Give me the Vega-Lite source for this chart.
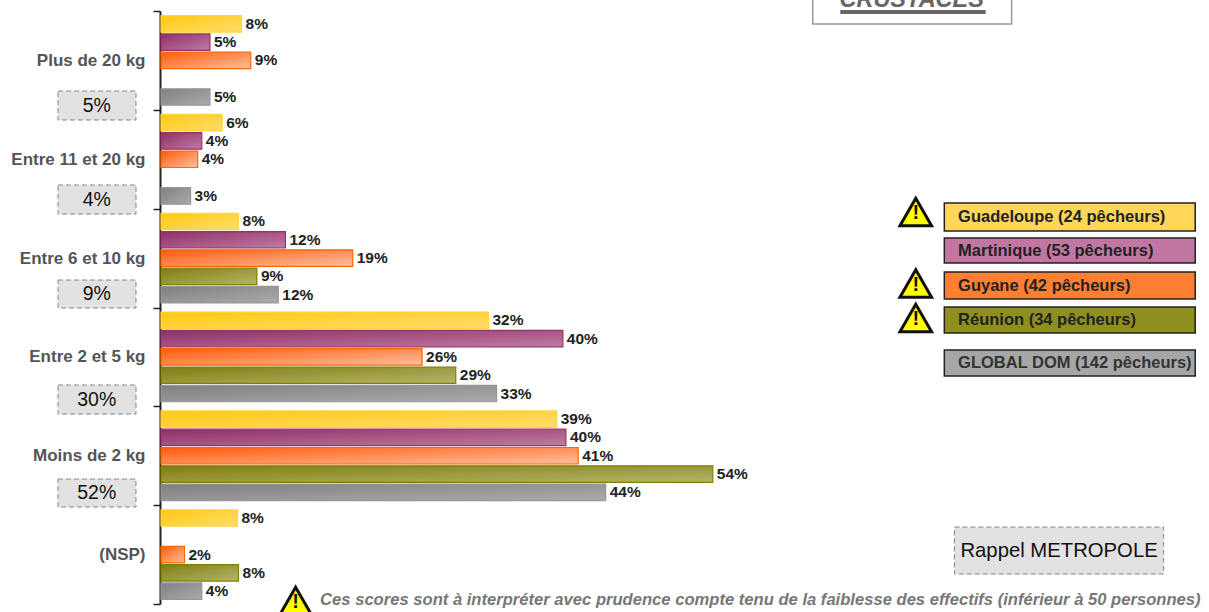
{"$schema":"https://vega.github.io/schema/vega-lite/v6.json","width":1048,"height":593,"autosize":"none","padding":{"left":161,"top":11,"right":0,"bottom":8},"background":"white","config":{"view":{"stroke":null},"text":{"font":"Liberation Sans"}},"resolve":{"scale":{"y":"independent"}},"layer":[
{"data":{"name":"bars","values":[
{"g":"Plus de 20 kg","s":"Guadeloupe","value":7.9,"label":"8%"},{"g":"Plus de 20 kg","s":"Martinique","value":4.8,"label":"5%"},{"g":"Plus de 20 kg","s":"Guyane","value":8.8,"label":"9%"},{"g":"Plus de 20 kg","s":"GLOBAL DOM","value":4.8,"label":"5%"},
{"g":"Entre 11 et 20 kg","s":"Guadeloupe","value":6.0,"label":"6%"},{"g":"Entre 11 et 20 kg","s":"Martinique","value":4.0,"label":"4%"},{"g":"Entre 11 et 20 kg","s":"Guyane","value":3.6,"label":"4%"},{"g":"Entre 11 et 20 kg","s":"GLOBAL DOM","value":2.9,"label":"3%"},
{"g":"Entre 6 et 10 kg","s":"Guadeloupe","value":7.6,"label":"8%"},{"g":"Entre 6 et 10 kg","s":"Martinique","value":12.2,"label":"12%"},{"g":"Entre 6 et 10 kg","s":"Guyane","value":18.8,"label":"19%"},{"g":"Entre 6 et 10 kg","s":"Réunion","value":9.4,"label":"9%"},{"g":"Entre 6 et 10 kg","s":"GLOBAL DOM","value":11.5,"label":"12%"},
{"g":"Entre 2 et 5 kg","s":"Guadeloupe","value":32.1,"label":"32%"},{"g":"Entre 2 et 5 kg","s":"Martinique","value":39.4,"label":"40%"},{"g":"Entre 2 et 5 kg","s":"Guyane","value":25.6,"label":"26%"},{"g":"Entre 2 et 5 kg","s":"Réunion","value":28.9,"label":"29%"},{"g":"Entre 2 et 5 kg","s":"GLOBAL DOM","value":32.9,"label":"33%"},
{"g":"Moins de 2 kg","s":"Guadeloupe","value":38.8,"label":"39%"},{"g":"Moins de 2 kg","s":"Martinique","value":39.7,"label":"40%"},{"g":"Moins de 2 kg","s":"Guyane","value":40.9,"label":"41%"},{"g":"Moins de 2 kg","s":"Réunion","value":54.1,"label":"54%"},{"g":"Moins de 2 kg","s":"GLOBAL DOM","value":43.6,"label":"44%"},
{"g":"(NSP)","s":"Guadeloupe","value":7.5,"label":"8%"},{"g":"(NSP)","s":"Guyane","value":2.3,"label":"2%"},{"g":"(NSP)","s":"Réunion","value":7.6,"label":"8%"},{"g":"(NSP)","s":"GLOBAL DOM","value":4.0,"label":"4%"}
]},
"encoding":{"x":{"field":"value","type":"quantitative","axis":null,"scale":{"domain":[0,102.75],"nice":false,"zero":false}},
"y":{"field":"g","type":"nominal","sort":null,"title":null,"scale":{"type":"band","domain":["Plus de 20 kg","Entre 11 et 20 kg","Entre 6 et 10 kg","Entre 2 et 5 kg","Moins de 2 kg","(NSP)"],"paddingInner":0,"paddingOuter":0},"axis":{"title":null,"offset":1,"tickBand":"extent","domainColor":"#222","domainWidth":2,"tickColor":"#222","tickWidth":1.5,"tickSize":7,"labelPadding":8,"labelFont":"Liberation Sans","labelFontWeight":"bold","labelFontSize":17,"labelColor":"#555","grid":false}},
"yOffset":{"field":"s","type":"nominal","scale":{"type":"band","domain":["Guadeloupe","Martinique","Guyane","Réunion","GLOBAL DOM"],"paddingInner":0.1,"paddingOuter":0.25}}},
"layer":[
{"transform":[{"filter":"datum.s==='Guadeloupe'"}],"mark":{"type":"bar","stroke":"#FFD53A","strokeWidth":1.2,"fill":{"gradient":"linear","x1":0,"y1":0,"x2":1,"y2":1,"stops":[{"offset":0,"color":"#FFC90E"},{"offset":1,"color":"#FFDC6E"}]}}},
{"transform":[{"filter":"datum.s==='Martinique'"}],"mark":{"type":"bar","stroke":"#993366","strokeWidth":1.2,"fill":{"gradient":"linear","x1":0,"y1":0,"x2":1,"y2":1,"stops":[{"offset":0,"color":"#8E2F68"},{"offset":1,"color":"#C07BA3"}]}}},
{"transform":[{"filter":"datum.s==='Guyane'"}],"mark":{"type":"bar","stroke":"#FF6600","strokeWidth":1.2,"fill":{"gradient":"linear","x1":0,"y1":0,"x2":1,"y2":1,"stops":[{"offset":0,"color":"#FF5A0A"},{"offset":1,"color":"#FFBF9F"}]}}},
{"transform":[{"filter":"datum.s==='Réunion'"}],"mark":{"type":"bar","stroke":"#808000","strokeWidth":1.2,"fill":{"gradient":"linear","x1":0,"y1":0,"x2":1,"y2":1,"stops":[{"offset":0,"color":"#7E7E10"},{"offset":1,"color":"#B5B56B"}]}}},
{"transform":[{"filter":"datum.s==='GLOBAL DOM'"}],"mark":{"type":"bar","stroke":"#969696","strokeWidth":1.2,"fill":{"gradient":"linear","x1":0,"y1":0,"x2":1,"y2":1,"stops":[{"offset":0,"color":"#808080"},{"offset":1,"color":"#ABABAB"}]}}},
{"mark":{"type":"text","align":"left","baseline":"middle","dx":4,"fontSize":15.5,"fontWeight":"bold","color":"#222"},"encoding":{"text":{"field":"label"}}}
]},
{"data":{"values":[{"t":"5%"}]},"encoding":{"x":{"datum":-10.1,"type":"quantitative"},"x2":{"datum":-2.45},"y":{"datum":91,"type":"quantitative","axis":null,"scale":{"domain":[11,604],"reverse":true,"nice":false,"zero":false}},"y2":{"datum":120}},"mark":{"type":"rect","fill":"#E2E2E2","stroke":"#888","strokeDash":[5,3]}},
{"data":{"values":[{"t":"4%"}]},"encoding":{"x":{"datum":-10.1,"type":"quantitative"},"x2":{"datum":-2.45},"y":{"datum":185,"type":"quantitative","axis":null,"scale":{"domain":[11,604],"reverse":true,"nice":false,"zero":false}},"y2":{"datum":214}},"mark":{"type":"rect","fill":"#E2E2E2","stroke":"#888","strokeDash":[5,3]}},
{"data":{"values":[{"t":"9%"}]},"encoding":{"x":{"datum":-10.1,"type":"quantitative"},"x2":{"datum":-2.45},"y":{"datum":280,"type":"quantitative","axis":null,"scale":{"domain":[11,604],"reverse":true,"nice":false,"zero":false}},"y2":{"datum":308}},"mark":{"type":"rect","fill":"#E2E2E2","stroke":"#888","strokeDash":[5,3]}},
{"data":{"values":[{"t":"30%"}]},"encoding":{"x":{"datum":-10.1,"type":"quantitative"},"x2":{"datum":-2.45},"y":{"datum":385,"type":"quantitative","axis":null,"scale":{"domain":[11,604],"reverse":true,"nice":false,"zero":false}},"y2":{"datum":414}},"mark":{"type":"rect","fill":"#E2E2E2","stroke":"#888","strokeDash":[5,3]}},
{"data":{"values":[{"t":"52%"}]},"encoding":{"x":{"datum":-10.1,"type":"quantitative"},"x2":{"datum":-2.45},"y":{"datum":479,"type":"quantitative","axis":null,"scale":{"domain":[11,604],"reverse":true,"nice":false,"zero":false}},"y2":{"datum":507}},"mark":{"type":"rect","fill":"#E2E2E2","stroke":"#888","strokeDash":[5,3]}},
{"data":{"values":[{"t":"5%"}]},"encoding":{"x":{"datum":-6.3,"type":"quantitative"},"y":{"datum":105.5,"type":"quantitative","axis":null,"scale":{"domain":[11,604],"reverse":true,"nice":false,"zero":false}},"text":{"field":"t"}},"mark":{"type":"text","fontSize":19.5,"color":"#111","baseline":"middle"}},
{"data":{"values":[{"t":"4%"}]},"encoding":{"x":{"datum":-6.3,"type":"quantitative"},"y":{"datum":199.5,"type":"quantitative","axis":null,"scale":{"domain":[11,604],"reverse":true,"nice":false,"zero":false}},"text":{"field":"t"}},"mark":{"type":"text","fontSize":19.5,"color":"#111","baseline":"middle"}},
{"data":{"values":[{"t":"9%"}]},"encoding":{"x":{"datum":-6.3,"type":"quantitative"},"y":{"datum":294,"type":"quantitative","axis":null,"scale":{"domain":[11,604],"reverse":true,"nice":false,"zero":false}},"text":{"field":"t"}},"mark":{"type":"text","fontSize":19.5,"color":"#111","baseline":"middle"}},
{"data":{"values":[{"t":"30%"}]},"encoding":{"x":{"datum":-6.3,"type":"quantitative"},"y":{"datum":399.5,"type":"quantitative","axis":null,"scale":{"domain":[11,604],"reverse":true,"nice":false,"zero":false}},"text":{"field":"t"}},"mark":{"type":"text","fontSize":19.5,"color":"#111","baseline":"middle"}},
{"data":{"values":[{"t":"52%"}]},"encoding":{"x":{"datum":-6.3,"type":"quantitative"},"y":{"datum":493,"type":"quantitative","axis":null,"scale":{"domain":[11,604],"reverse":true,"nice":false,"zero":false}},"text":{"field":"t"}},"mark":{"type":"text","fontSize":19.5,"color":"#111","baseline":"middle"}},
{"data":{"values":[{"t":"CRUSTACES"}]},"encoding":{"x":{"datum":63.9,"type":"quantitative"},"x2":{"datum":83.4},"y":{"datum":-20,"type":"quantitative","axis":null,"scale":{"domain":[11,604],"reverse":true,"nice":false,"zero":false}},"y2":{"datum":24}},"mark":{"type":"rect","fill":"white","stroke":"#999","strokeWidth":1.5}},
{"data":{"values":[{"t":"CRUSTACES"}]},"encoding":{"x":{"datum":73.6,"type":"quantitative"},"y":{"datum":0,"type":"quantitative","axis":null,"scale":{"domain":[11,604],"reverse":true,"nice":false,"zero":false}},"text":{"field":"t"}},"mark":{"type":"text","fontSize":23.5,"fontWeight":"bold","fontStyle":"italic","color":"#666","baseline":"middle"}},
{"data":{"values":[{"t":"underline"}]},"encoding":{"x":{"datum":66.6,"type":"quantitative"},"x2":{"datum":80.85},"y":{"datum":10,"type":"quantitative","axis":null,"scale":{"domain":[11,604],"reverse":true,"nice":false,"zero":false}},"y2":{"datum":14}},"mark":{"type":"rect","fill":"#666"}},
{"data":{"values":[{"t":"Guadeloupe (24 pêcheurs)"}]},"encoding":{"x":{"datum":76.8,"type":"quantitative"},"x2":{"datum":101.4},"y":{"datum":203,"type":"quantitative","axis":null,"scale":{"domain":[11,604],"reverse":true,"nice":false,"zero":false}},"y2":{"datum":231}},"mark":{"type":"rect","fill":"#FFD65A","stroke":"#222","strokeWidth":1.5}},
{"data":{"values":[{"t":"Martinique (53 pêcheurs)"}]},"encoding":{"x":{"datum":76.8,"type":"quantitative"},"x2":{"datum":101.4},"y":{"datum":238,"type":"quantitative","axis":null,"scale":{"domain":[11,604],"reverse":true,"nice":false,"zero":false}},"y2":{"datum":263}},"mark":{"type":"rect","fill":"#C277A3","stroke":"#222","strokeWidth":1.5}},
{"data":{"values":[{"t":"Guyane (42 pêcheurs)"}]},"encoding":{"x":{"datum":76.8,"type":"quantitative"},"x2":{"datum":101.4},"y":{"datum":272,"type":"quantitative","axis":null,"scale":{"domain":[11,604],"reverse":true,"nice":false,"zero":false}},"y2":{"datum":299}},"mark":{"type":"rect","fill":"#FF7F32","stroke":"#222","strokeWidth":1.5}},
{"data":{"values":[{"t":"Réunion (34 pêcheurs)"}]},"encoding":{"x":{"datum":76.8,"type":"quantitative"},"x2":{"datum":101.4},"y":{"datum":307,"type":"quantitative","axis":null,"scale":{"domain":[11,604],"reverse":true,"nice":false,"zero":false}},"y2":{"datum":333}},"mark":{"type":"rect","fill":"#8F8F1F","stroke":"#222","strokeWidth":1.5}},
{"data":{"values":[{"t":"GLOBAL DOM (142 pêcheurs)"}]},"encoding":{"x":{"datum":76.8,"type":"quantitative"},"x2":{"datum":101.4},"y":{"datum":350,"type":"quantitative","axis":null,"scale":{"domain":[11,604],"reverse":true,"nice":false,"zero":false}},"y2":{"datum":376}},"mark":{"type":"rect","fill":"#A6A6A6","stroke":"#222","strokeWidth":1.5}},
{"data":{"values":[{"t":"Guadeloupe (24 pêcheurs)"}]},"encoding":{"x":{"datum":78.15,"type":"quantitative"},"y":{"datum":217,"type":"quantitative","axis":null,"scale":{"domain":[11,604],"reverse":true,"nice":false,"zero":false}},"text":{"field":"t"}},"mark":{"type":"text","align":"left","baseline":"middle","fontSize":16.5,"fontWeight":"bold","color":"#222"}},
{"data":{"values":[{"t":"Martinique (53 pêcheurs)"}]},"encoding":{"x":{"datum":78.15,"type":"quantitative"},"y":{"datum":250.5,"type":"quantitative","axis":null,"scale":{"domain":[11,604],"reverse":true,"nice":false,"zero":false}},"text":{"field":"t"}},"mark":{"type":"text","align":"left","baseline":"middle","fontSize":16.5,"fontWeight":"bold","color":"#222"}},
{"data":{"values":[{"t":"Guyane (42 pêcheurs)"}]},"encoding":{"x":{"datum":78.15,"type":"quantitative"},"y":{"datum":285.5,"type":"quantitative","axis":null,"scale":{"domain":[11,604],"reverse":true,"nice":false,"zero":false}},"text":{"field":"t"}},"mark":{"type":"text","align":"left","baseline":"middle","fontSize":16.5,"fontWeight":"bold","color":"#222"}},
{"data":{"values":[{"t":"Réunion (34 pêcheurs)"}]},"encoding":{"x":{"datum":78.15,"type":"quantitative"},"y":{"datum":319.5,"type":"quantitative","axis":null,"scale":{"domain":[11,604],"reverse":true,"nice":false,"zero":false}},"text":{"field":"t"}},"mark":{"type":"text","align":"left","baseline":"middle","fontSize":16.5,"fontWeight":"bold","color":"#222"}},
{"data":{"values":[{"t":"GLOBAL DOM (142 pêcheurs)"}]},"encoding":{"x":{"datum":78.15,"type":"quantitative"},"y":{"datum":363,"type":"quantitative","axis":null,"scale":{"domain":[11,604],"reverse":true,"nice":false,"zero":false}},"text":{"field":"t"}},"mark":{"type":"text","align":"left","baseline":"middle","fontSize":16.5,"fontWeight":"bold","color":"#333"}},
{"data":{"values":[{"t":"Guadeloupe"}]},"encoding":{"x":{"datum":74,"type":"quantitative"},"y":{"datum":212,"type":"quantitative","axis":null,"scale":{"domain":[11,604],"reverse":true,"nice":false,"zero":false}}},"mark":{"type":"point","shape":"triangle-up","size":1000,"filled":true,"fill":"#FFFF00","stroke":"#111","strokeWidth":3,"opacity":1}},
{"data":{"values":[{"t":"Guyane"}]},"encoding":{"x":{"datum":74,"type":"quantitative"},"y":{"datum":283.5,"type":"quantitative","axis":null,"scale":{"domain":[11,604],"reverse":true,"nice":false,"zero":false}}},"mark":{"type":"point","shape":"triangle-up","size":1000,"filled":true,"fill":"#FFFF00","stroke":"#111","strokeWidth":3,"opacity":1}},
{"data":{"values":[{"t":"Réunion"}]},"encoding":{"x":{"datum":74,"type":"quantitative"},"y":{"datum":318,"type":"quantitative","axis":null,"scale":{"domain":[11,604],"reverse":true,"nice":false,"zero":false}}},"mark":{"type":"point","shape":"triangle-up","size":1000,"filled":true,"fill":"#FFFF00","stroke":"#111","strokeWidth":3,"opacity":1}},
{"data":{"values":[{"t":"note"}]},"encoding":{"x":{"datum":13.2,"type":"quantitative"},"y":{"datum":601,"type":"quantitative","axis":null,"scale":{"domain":[11,604],"reverse":true,"nice":false,"zero":false}}},"mark":{"type":"point","shape":"triangle-up","size":1000,"filled":true,"fill":"#FFFF00","stroke":"#111","strokeWidth":3,"opacity":1}},
{"data":{"values":[{"t":"!"}]},"encoding":{"x":{"datum":74,"type":"quantitative"},"y":{"datum":213,"type":"quantitative","axis":null,"scale":{"domain":[11,604],"reverse":true,"nice":false,"zero":false}},"text":{"field":"t"}},"mark":{"type":"text","fontSize":20,"fontWeight":"bold","color":"#111","baseline":"middle"}},
{"data":{"values":[{"t":"!"}]},"encoding":{"x":{"datum":74,"type":"quantitative"},"y":{"datum":284.5,"type":"quantitative","axis":null,"scale":{"domain":[11,604],"reverse":true,"nice":false,"zero":false}},"text":{"field":"t"}},"mark":{"type":"text","fontSize":20,"fontWeight":"bold","color":"#111","baseline":"middle"}},
{"data":{"values":[{"t":"!"}]},"encoding":{"x":{"datum":74,"type":"quantitative"},"y":{"datum":319,"type":"quantitative","axis":null,"scale":{"domain":[11,604],"reverse":true,"nice":false,"zero":false}},"text":{"field":"t"}},"mark":{"type":"text","fontSize":20,"fontWeight":"bold","color":"#111","baseline":"middle"}},
{"data":{"values":[{"t":"!"}]},"encoding":{"x":{"datum":13.2,"type":"quantitative"},"y":{"datum":602,"type":"quantitative","axis":null,"scale":{"domain":[11,604],"reverse":true,"nice":false,"zero":false}},"text":{"field":"t"}},"mark":{"type":"text","fontSize":20,"fontWeight":"bold","color":"#111","baseline":"middle"}},
{"data":{"values":[{"t":"Rappel METROPOLE"}]},"encoding":{"x":{"datum":77.8,"type":"quantitative"},"x2":{"datum":98.3},"y":{"datum":527,"type":"quantitative","axis":null,"scale":{"domain":[11,604],"reverse":true,"nice":false,"zero":false}},"y2":{"datum":574}},"mark":{"type":"rect","fill":"#E2E2E2","stroke":"#888","strokeDash":[5,3]}},
{"data":{"values":[{"t":"Rappel METROPOLE"}]},"encoding":{"x":{"datum":88.05,"type":"quantitative"},"y":{"datum":551,"type":"quantitative","axis":null,"scale":{"domain":[11,604],"reverse":true,"nice":false,"zero":false}},"text":{"field":"t"}},"mark":{"type":"text","fontSize":20.3,"fontWeight":"normal","color":"#111","baseline":"middle"}},
{"data":{"values":[{"t":"Ces scores sont à interpréter avec prudence compte tenu de la faiblesse des effectifs (inférieur à 50 personnes)"}]},"encoding":{"x":{"datum":15.6,"type":"quantitative"},"y":{"datum":600,"type":"quantitative","axis":null,"scale":{"domain":[11,604],"reverse":true,"nice":false,"zero":false}},"text":{"field":"t"}},"mark":{"type":"text","align":"left","baseline":"middle","fontSize":16.6,"fontWeight":"bold","fontStyle":"italic","color":"#777"}}
]}
